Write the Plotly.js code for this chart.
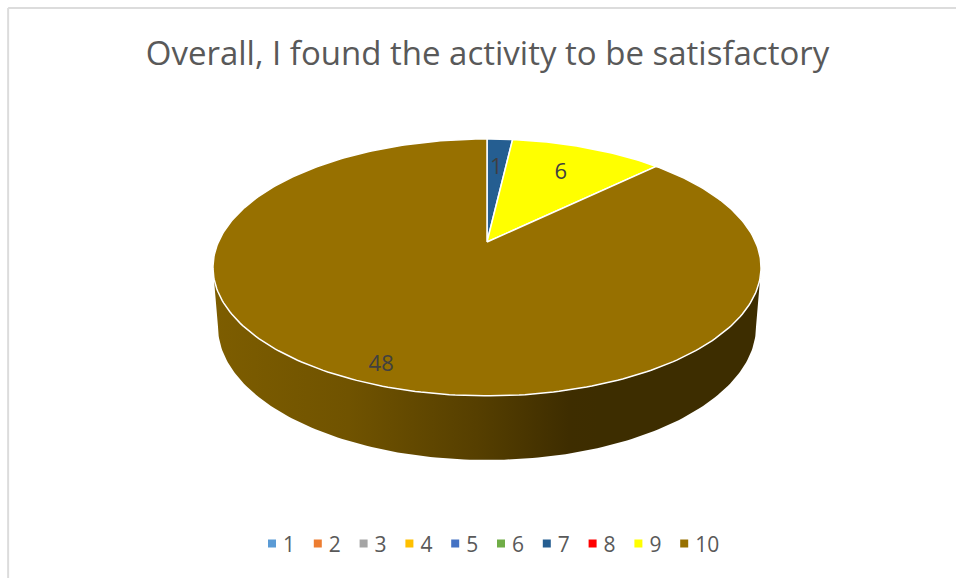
<!DOCTYPE html>
<html>
<head>
<meta charset="utf-8">
<script src="https://cdn.plot.ly/plotly-3.0.1.min.js"></script>
<style>html,body{margin:0;padding:0;background:#fff}#chart{width:956px;height:578px}</style>
</head>
<body>
<div id="chart"></div>
<script>
const chartTitle = 'Overall, I found the activity to be satisfactory';
const categories = ['1', '2', '3', '4', '5', '6', '7', '8', '9', '10'];
const responses = [0, 0, 0, 0, 0, 0, 1, 0, 6, 48];
const sliceColors = ['#5B9BD5', '#ED7D31', '#A5A5A5', '#FFC000', '#4472C4', '#70AD47', '#255E91', '#FF0000', '#FFFF00', '#977000'];

// Camera model of the tilted disc: a unit circle (u, v) is projected with a
// single perspective term, so nearer slices appear larger on screen.
const PERSPECTIVE = 0.198;
const CENTER_X = 487;
const topPlane = {y: 242, rx: 268.6, ry: 123.4};
const basePlane = {y: 300, rx: 263.7, ry: 128.3};
const labelPlacement = {'7': {reach: 0.68, turn: 0}, '9': {reach: 0.70, turn: 0}, '10': {reach: 0.90, turn: -1.5}};
const ARC_STEP = Math.PI / 180;

function project(plane, angle, reach) {
  const u = reach * Math.sin(angle);
  const v = -reach * Math.cos(angle);
  const d = 1 - PERSPECTIVE * v;
  return [CENTER_X + plane.rx * u / d, plane.y + plane.ry * v / d];
}

function arc(plane, from, to) {
  const pts = [];
  const n = Math.max(2, Math.ceil((to - from) / ARC_STEP));
  for (let i = 0; i <= n; i++) pts.push(project(plane, from + (to - from) * i / n, 1));
  return pts;
}

const total = responses.reduce((a, b) => a + b, 0);
const spans = [];
let running = 0;
responses.forEach((value, i) => {
  const from = running / total * 2 * Math.PI;
  running += value;
  spans.push({from, to: running / total * 2 * Math.PI, value, i});
});

const traces = [];

// Side wall: only the part of the rim facing the viewer is visible.
const wallFrom = Math.PI - Math.acos(PERSPECTIVE);
const wallTo = Math.PI + Math.acos(PERSPECTIVE);
spans.filter(s => s.value > 0).forEach(s => {
  const from = Math.max(s.from, wallFrom);
  const to = Math.min(s.to, wallTo);
  if (to <= from) return;
  const outline = arc(topPlane, from, to).concat(arc(basePlane, from, to).reverse());
  outline.push(outline[0]);
  traces.push({
    type: 'scatter', mode: 'lines', showlegend: false, hoverinfo: 'skip',
    x: outline.map(p => p[0]), y: outline.map(p => p[1]),
    fill: 'toself', line: {width: 0, color: 'rgba(0,0,0,0)'},
    fillgradient: {
      type: 'horizontal', start: 213, stop: 600,
      colorscale: [[0, '#7D5D00'], [0.35, '#705300'], [0.68, '#563F00'], [0.92, '#3E2D00'], [1, '#3D2D00']]
    }
  });
});

// Top face, one wedge per category that has responses.
spans.filter(s => s.value > 0).forEach(s => {
  const outline = [[CENTER_X, topPlane.y]].concat(arc(topPlane, s.from, s.to));
  outline.push(outline[0]);
  traces.push({
    type: 'scatter', mode: 'lines', showlegend: false, hoverinfo: 'skip',
    x: outline.map(p => p[0]), y: outline.map(p => p[1]),
    fill: 'toself', fillcolor: sliceColors[s.i],
    line: {width: 1.5, color: '#FFFFFF'}
  });
});

// Value labels on the wedges.
const labelled = spans.filter(s => s.value > 0);
const labelPts = labelled.map(s => {
  const place = labelPlacement[categories[s.i]];
  return project(topPlane, (s.from + s.to) / 2 + place.turn * Math.PI / 180, place.reach);
});
traces.push({
  type: 'scatter', mode: 'text', showlegend: false, hoverinfo: 'skip',
  x: labelPts.map(p => p[0]), y: labelPts.map(p => p[1]),
  text: labelled.map(s => String(s.value)), textposition: 'middle center',
  textfont: {family: 'Open Sans, sans-serif', size: 22, color: '#404040'}
});

// Legend entries for all ten categories, including those with no responses.
categories.forEach((name, i) => {
  traces.push({
    type: 'scatter', mode: 'markers', name, x: [null], y: [null], hoverinfo: 'skip',
    legendwidth: name.length > 1 ? 30 : undefined,
    marker: {symbol: 'square', size: 8, color: sliceColors[i]}
  });
});

const layout = {
  width: 956, height: 578,
  margin: {l: 0, r: 0, t: 0, b: 0},
  paper_bgcolor: '#FFFFFF', plot_bgcolor: '#FFFFFF',
  title: {
    text: chartTitle, x: 487.5 / 956, xanchor: 'center', y: 0.908, yanchor: 'middle',
    font: {family: 'Open Sans, sans-serif', size: 33, color: '#595959'}
  },
  xaxis: {range: [0, 956], visible: false, fixedrange: true},
  yaxis: {range: [578, 0], visible: false, fixedrange: true},
  showlegend: true,
  legend: {
    orientation: 'h', x: 243 / 956, xanchor: 'left', y: 0.059, yanchor: 'middle',
    traceorder: 'normal', entrywidth: 0.8, entrywidthmode: 'pixels',
    font: {family: 'Open Sans, sans-serif', size: 21, color: '#595959'},
    bgcolor: 'rgba(0,0,0,0)'
  },
  shapes: [
    {type: 'line', xref: 'paper', yref: 'paper', x0: 0.0085, x1: 1, y0: 0.986, y1: 0.986, line: {color: '#DCDCDC', width: 2}},
    {type: 'line', xref: 'paper', yref: 'paper', x0: 0.0085, x1: 0.0085, y0: 0, y1: 0.986, line: {color: '#DCDCDC', width: 2}}
  ]
};

Plotly.newPlot('chart', traces, layout, {displayModeBar: false, staticPlot: true}).then(() => {
  // Bring each legend swatch closer to its label than the default item width allows.
  document.querySelectorAll('#chart .legendpoints').forEach(g => g.setAttribute('transform', 'translate(9,0)'));
});
</script>
</body>
</html>
